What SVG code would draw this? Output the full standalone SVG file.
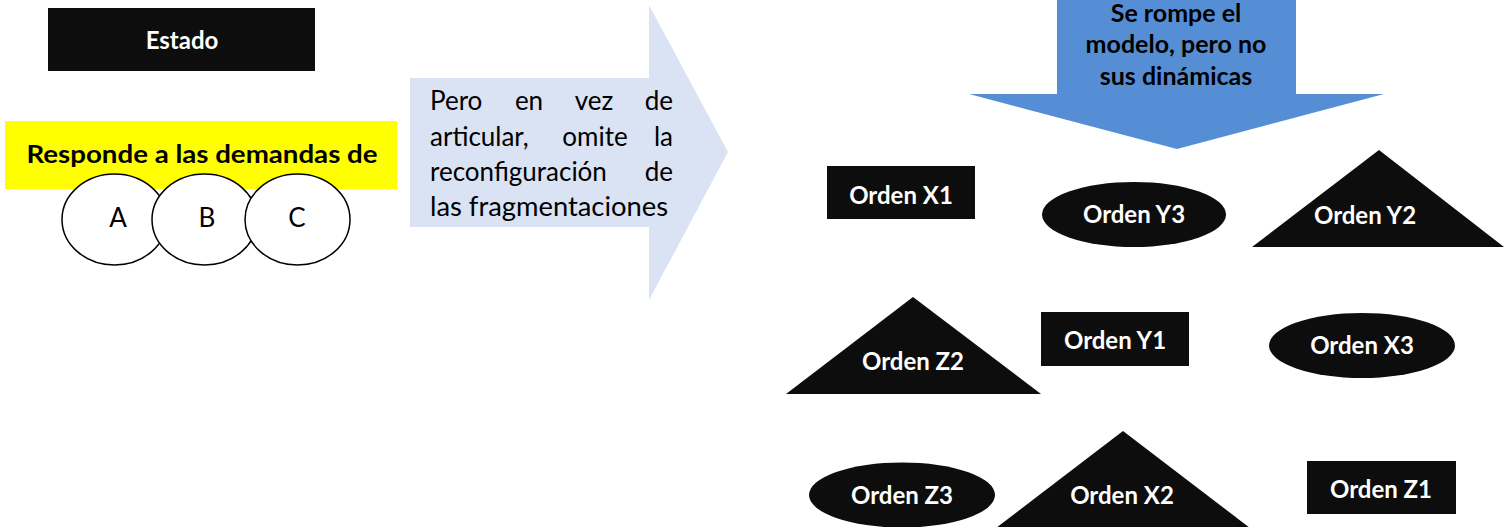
<svg xmlns="http://www.w3.org/2000/svg" width="1504" height="527" viewBox="0 0 1504 527">
<style>
.blk{fill:#0d0d0d}
.wt{font-family:Lato,"Open Sans","Liberation Sans",sans-serif;font-weight:bold;font-size:24px;fill:#ffffff;text-anchor:middle}
.bt{font-family:Lato,"Open Sans","Liberation Sans",sans-serif;font-weight:bold;font-size:25px;fill:#000000;text-anchor:middle}
.rt{font-family:Lato,"Open Sans","Liberation Sans",sans-serif;font-size:26px;fill:#000000}
.circ{fill:#ffffff;stroke:#000000;stroke-width:1.5}
</style>
<rect width="1504" height="527" fill="#ffffff"/>
<g id="estado">
<rect class="blk" x="48" y="8" width="267" height="63"/>
<text class="wt" x="182" y="49" font-size="28">Estado</text>
</g>
<g id="responde">
<rect x="5" y="121" width="392" height="68" fill="#ffff00"/>
<text class="bt" x="202" y="163" font-size="27" textLength="351" lengthAdjust="spacingAndGlyphs">Responde a las demandas de</text>
</g>
<g id="A">
<ellipse class="circ" cx="114.5" cy="219.5" rx="52.5" ry="45.5"/>
<text class="rt" x="118" y="227" text-anchor="middle" font-size="23">A</text>
</g>
<g id="B">
<ellipse class="circ" cx="204.5" cy="219.5" rx="52.5" ry="45.5"/>
<text class="rt" x="207" y="227" text-anchor="middle" font-size="23">B</text>
</g>
<g id="C">
<ellipse class="circ" cx="297.5" cy="219.5" rx="52.5" ry="45.5"/>
<text class="rt" x="297" y="227" text-anchor="middle" font-size="23">C</text>
</g>
<g id="flecha-derecha">
<polygon points="410,78 649,78 649,5 728,152 649,300 649,227 410,227" fill="#dae3f3"/>
<text class="rt" x="430" y="110">Pero</text>
<text class="rt" x="529" y="110" text-anchor="middle">en</text>
<text class="rt" x="594" y="110" text-anchor="middle">vez</text>
<text class="rt" x="673" y="110" text-anchor="end">de</text>
<text class="rt" x="430" y="146">articular,</text>
<text class="rt" x="595" y="146" text-anchor="middle">omite</text>
<text class="rt" x="673" y="146" text-anchor="end">la</text>
<text class="rt" x="430" y="181">reconfiguración</text>
<text class="rt" x="673" y="181" text-anchor="end">de</text>
<text class="rt" x="430" y="216" textLength="238" lengthAdjust="spacingAndGlyphs">las fragmentaciones</text>
</g>
<g id="flecha-abajo">
<polygon points="1057,0 1296,0 1296,94 1384,94 1177,149 969,94 1057,94" fill="#558ed5"/>
<text class="bt" x="1176" y="22">Se rompe el</text>
<text class="bt" x="1176" y="53">modelo, pero no</text>
<text class="bt" x="1176" y="85">sus dinámicas</text>
</g>
<g id="orden-x1">
<rect class="blk" x="827" y="166" width="148" height="53"/>
<text class="wt" x="901" y="204">Orden X1</text>
</g>
<g id="orden-y3">
<ellipse class="blk" cx="1134" cy="214.5" rx="92" ry="32.5"/>
<text class="wt" x="1134" y="223">Orden Y3</text>
</g>
<g id="orden-y2">
<polygon class="blk" points="1379,150 1504,247 1252,247"/>
<text class="wt" x="1365" y="224">Orden Y2</text>
</g>
<g id="orden-z2">
<polygon class="blk" points="913,297 1041,394 786,394"/>
<text class="wt" x="913" y="370">Orden Z2</text>
</g>
<g id="orden-y1">
<rect class="blk" x="1041" y="312" width="148" height="54"/>
<text class="wt" x="1115" y="349">Orden Y1</text>
</g>
<g id="orden-x3">
<ellipse class="blk" cx="1362" cy="345.5" rx="93" ry="32.5"/>
<text class="wt" x="1362" y="354">Orden X3</text>
</g>
<g id="orden-z3">
<ellipse class="blk" cx="902" cy="495" rx="93" ry="32.5"/>
<text class="wt" x="902" y="504">Orden Z3</text>
</g>
<g id="orden-x2">
<polygon class="blk" points="1123,431 1250,528 996,528"/>
<text class="wt" x="1122" y="504">Orden X2</text>
</g>
<g id="orden-z1">
<rect class="blk" x="1307" y="461" width="149" height="53"/>
<text class="wt" x="1381" y="498">Orden Z1</text>
</g>
<g id="connectors"/>
</svg>
